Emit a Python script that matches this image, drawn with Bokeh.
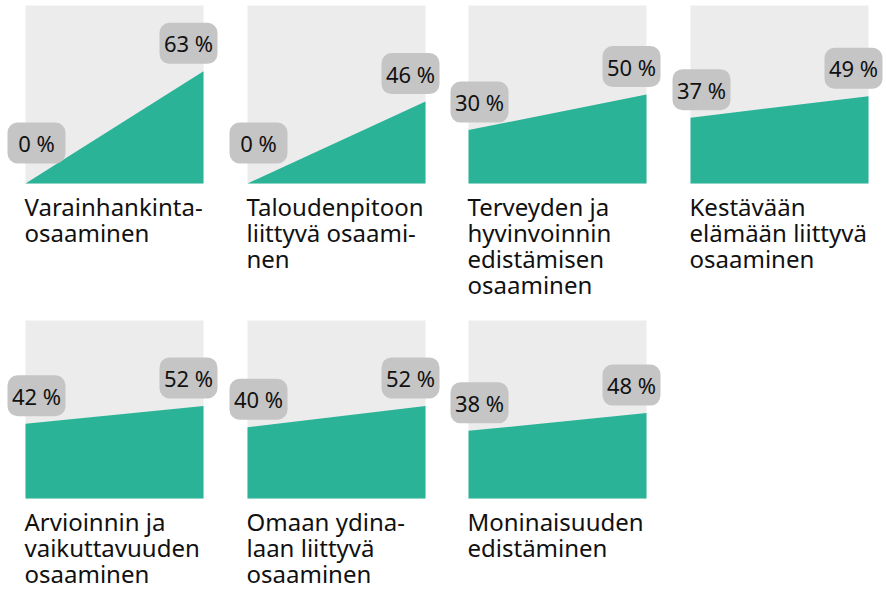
import numpy as np
from bokeh.plotting import figure
from bokeh.models import Range1d, ColumnDataSource
from bokeh.layouts import row, column
from bokeh.core.properties import value
from bokeh.embed import file_html
from bokeh.resources import INLINE

# ---- data ----
categories = [
    "Varainhankinta-\nosaaminen",
    "Taloudenpitoon\nliittyvä osaami-\nnen",
    "Terveyden ja\nhyvinvoinnin\nedistämisen\nosaaminen",
    "Kestävään\nelämään liittyvä\nosaaminen",
    "Arvioinnin ja\nvaikuttavuuden\nosaaminen",
    "Omaan ydina-\nlaan liittyvä\nosaaminen",
    "Moninaisuuden\nedistäminen",
]
start_values = [0, 0, 30, 37, 42, 40, 38]
end_values = [63, 46, 50, 49, 52, 52, 48]
period = [0, 1]  # start / end of each panel

# ---- style ----
GREEN = "#2bb398"
PANEL_BG = "#ececec"
BOX = "#c5c5c5"
TEXT = "#111111"
FONT = "Noto Sans"
PANEL_PX = 178      # panel size in px
LEFT_PX = 25        # panel left offset inside its figure
TOP_PX = 5          # panel top offset inside its figure
PX_X = PANEL_PX     # px per x unit
PX_Y = PANEL_PX / 100.0  # px per percent
LABEL_DY = 28       # label centre above data point (px)
LABEL_DX = [11, -15]  # label centre offset from panel edge (px)
LABEL_MIN = 7       # lowest label anchor (percent)

widths = [222, 221, 222, 221]
heights = [315, 274]


def make_panel(i, W, H):
    p = figure(width=W, height=H, output_backend="svg", toolbar_location=None,
               x_axis_type=None, y_axis_type=None, min_border=0,
               outline_line_color=None, title=None,
               background_fill_color="white", border_fill_color="white")
    p.grid.visible = False
    p.x_range = Range1d(-LEFT_PX / PX_X, (W - LEFT_PX) / PX_X)
    p.y_range = Range1d(-(H - TOP_PX - PANEL_PX) / PX_Y, 100 + TOP_PX / PX_Y)

    vals = [start_values[i], end_values[i]]
    # background panel
    p.quad(left=[period[0]], right=[period[1]], bottom=[0], top=[100],
           fill_color=PANEL_BG, line_color=None)
    # area
    p.varea(x=period, y1=[0, 0], y2=vals, fill_color=GREEN)

    # labels
    lx = [period[0] + LABEL_DX[0] / PX_X, period[1] + LABEL_DX[1] / PX_X]
    ly = [max(v, LABEL_MIN) + LABEL_DY / PX_Y for v in vals]
    src = ColumnDataSource(dict(x=lx, y=ly, t=[f"{v} %" for v in vals]))
    p.rect(x="x", y="y", width=58, height=41, width_units="screen",
           height_units="screen", source=src, fill_color=BOX, line_color=None,
           border_radius=10)
    p.text(x="x", y="y", text="t", source=src, text_align="center",
           text_baseline="middle", text_font=value(FONT),
           text_font_size="22px", text_color=TEXT)

    # category title
    p.text(x=[period[0]], y=[0], text=[categories[i]], x_offset=-1, y_offset=6,
           text_align="left", text_baseline="top", text_font=value(FONT),
           text_font_size="24px", text_line_height=0.79, text_color=TEXT)
    return p


r1 = [make_panel(i, widths[i], heights[0]) for i in range(4)]
r2 = [make_panel(4 + i, widths[i], heights[1]) for i in range(3)]
layout = column(row(*r1), row(*r2))

open("out.html", "w").write(file_html(layout, INLINE))
